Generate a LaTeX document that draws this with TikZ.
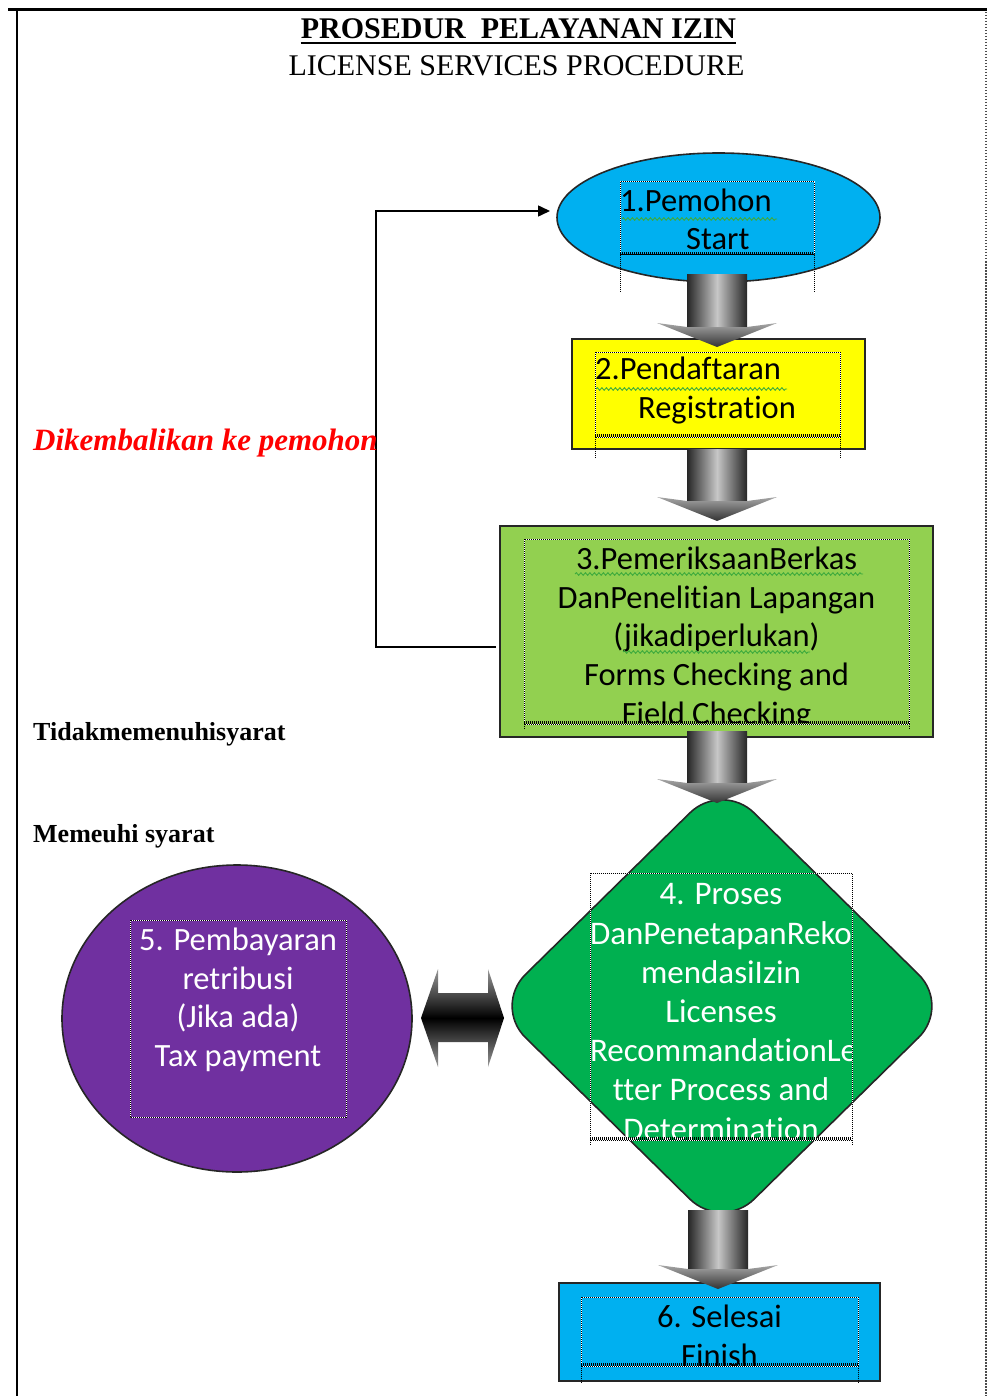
\documentclass[tikz,border=0pt]{standalone}
\usepackage{fontspec}
\usetikzlibrary{shapes.geometric,arrows.meta,decorations.pathmorphing,calc}
\newfontfamily\calibri[Ligatures={NoCommon,NoDiscretionary,NoContextual}]{Carlito}
\newfontfamily\cambria{Liberation Serif}
\definecolor{cyanfill}{HTML}{00B0F0}
\definecolor{yellowfill}{HTML}{FFFF00}
\definecolor{lgreen}{HTML}{92D050}
\definecolor{dgreen}{HTML}{00B050}
\definecolor{purplefill}{HTML}{7030A0}
\definecolor{redtext}{HTML}{FF0000}
\definecolor{squig}{HTML}{3DAA3D}
\newcommand\blockdown[4]{%
  \shade[left color=black!85, right color=black!85, middle color=black!22]
    ({#1-30},#2) rectangle ({#1+30},{#3+3});
  \shade[top color=black!35, bottom color=black!80]
    ({#1-60},#3) -- ({#1-30},{#3+4}) -- ({#1+30},{#3+4}) -- ({#1+60},#3) -- (#1,#4) -- cycle;
}
\newcommand\textframe[5]{%
  \draw[white, line width=1pt] (#1,#2) rectangle (#3,#4);
  \draw[black, line width=1pt, dash pattern=on 1pt off 1pt] (#1,#2) rectangle (#3,#4);
  \draw[black, line width=2.5pt, dash pattern=on 1pt off 1pt] (#1,{#4-1.5}) -- (#3,{#4-1.5});
  \draw[black, line width=1pt, dash pattern=on 1pt off 1pt] (#1,#4) -- (#1,#5) (#3,#4) -- (#3,#5);
}
\begin{document}
\begin{tikzpicture}[x=1pt,y=-1pt,
  shapebox/.style={draw=black!85, line width=1.6pt, inner sep=0pt},
  boxtext/.style={inner sep=0pt, align=center, anchor=base,
    font={\calibri\fontsize{32.5}{38.6}\selectfont}},
  squiggle/.style={squig, line width=0.9pt, decorate,
    decoration={snake, amplitude=1.3pt, segment length=4.5pt}},
  label/.style={inner sep=0pt, anchor=base west}]
\useasboundingbox (0,0) rectangle (995,1396);

% page frame
\draw[line width=3pt] (8,10) -- (987,10);
\draw[line width=2pt] (17,10) -- (17,1396);
\draw[black!70, line width=1.2pt, dash pattern=on 1.5pt off 1.5pt] (986,12) -- (986,1396);

% titles
\node[inner sep=0pt, anchor=base, font={\cambria\bfseries\fontsize{30}{36}\selectfont}] (title) at (518.5,39) {PROSEDUR\ \ PELAYANAN IZIN};
\draw[line width=2.5pt] ([yshift=-4pt]title.base west) -- ([yshift=-4pt]title.base east);
\node[inner sep=0pt, anchor=base, font={\cambria\fontsize{30}{36}\selectfont}] (subtitle) at (516.5,76) {LICENSE SERVICES PROCEDURE};

% shapes
\node[shapebox, ellipse, fill=cyanfill, minimum width=323, minimum height=129] (n1) at (718.5,217.5) {};
\node[shapebox, rectangle, fill=yellowfill, minimum width=293, minimum height=110] (n2) at (718.5,394) {};
\node[shapebox, rectangle, fill=lgreen, minimum width=433, minimum height=211] (n3) at (716.5,631.5) {};
\node[shapebox, diamond, fill=dgreen, rounded corners=45pt, minimum width=458, minimum height=450] (n4) at (722,1006) {};
\node[shapebox, ellipse, fill=purplefill, minimum width=350, minimum height=307] (n5) at (237,1018.5) {};
\node[shapebox, rectangle, fill=cyanfill, minimum width=321, minimum height=98] (n6) at (719.5,1332) {};

% texts (anchor = baseline of the last line)
\begin{scope}
\clip (620,182) rectangle (814,256);
\node[boxtext, align=left, anchor=base west] (t1) at (620,250) {1.Pemohon\\\hspace*{66pt}Start};
\end{scope}
\begin{scope}
\clip (595,352) rectangle (840,438);
\node[boxtext, align=left, anchor=base west] (t2) at (595,418.5) {2.Pendaftaran\\\hspace*{43pt}Registration};
\end{scope}
\begin{scope}
\clip (524,539) rectangle (909,722);
\node[boxtext] (t3) at (716.5,724) {3.PemeriksaanBerkas\\DanPenelitian Lapangan\\(jikadiperlukan)\\Forms Checking and\\Field Checking};
\end{scope}
\begin{scope}
\clip (590,873) rectangle (852,1140);
\node[boxtext, text=white, font={\calibri\fontsize{33}{39.2}\selectfont}] (t4) at (721,1140) {%
\makebox[262pt]{4. Proses}\\
\makebox[262pt][l]{DanPenetapanReko}\\
\makebox[262pt]{mendasiIzin}\\
\makebox[262pt]{Licenses}\\
\makebox[262pt][l]{RecommandationLe}\\
\makebox[262pt]{tter Process and}\\
\makebox[262pt]{Determination}};
\end{scope}
\node[boxtext, text=white] (t5) at (238,1066.5) {5. Pembayaran\\retribusi\\(Jika ada)\\Tax payment};
\begin{scope}
\clip (581,1297) rectangle (858,1366);
\node[boxtext] (t6) at (719.5,1366.5) {6. Selesai\\Finish};
\end{scope}

% spell-check squiggles
\draw[squiggle] (622,219) -- (777,219);
\draw[squiggle] (596,389) -- (787,389);
\draw[squiggle] (575,574) -- (863,574);
\draw[squiggle] (623,652) -- (810,652);

% text frames
\textframe{620}{182}{814}{255}{292}
\textframe{595}{352}{840}{437}{458}
\textframe{524}{539}{909}{724}{730}
\textframe{590}{873}{852}{1140}{1146}
\draw[white, line width=1pt] (130,920) rectangle (346,1117);
\draw[black, line width=1pt, dash pattern=on 1pt off 1pt] (130,920) rectangle (346,1117);
\textframe{581}{1297}{858}{1366}{1383}

% block arrows
\blockdown{717}{275}{323}{347}
\blockdown{717}{449}{497}{521}
\blockdown{717}{731}{779}{803}
\blockdown{718}{1210}{1265}{1289}

% double arrow between 5 and 4
\shade[top color=black!40, bottom color=black!40, middle color=black]
  (421,1018) -- (438,969) -- (438,993) -- (488,993) -- (488,969) -- (504,1018)
  -- (488,1067) -- (488,1042) -- (438,1042) -- (438,1067) -- cycle;

% feedback connector
\coordinate (fbS) at ($(n3.west)+(-3,15.5)$);
\coordinate (fbE) at (550,211);
\draw[line width=1.5pt, -{Triangle[length=12pt,width=11pt]}] (fbS) -- ++(-120,0) |- (fbE);

% labels
\node[label, text=redtext, font={\cambria\bfseries\itshape\fontsize{31}{36}\selectfont}] (back) at (33,450) {Dikembalikan ke pemohon};
\node[label, font={\cambria\bfseries\fontsize{26}{30}\selectfont}] (notok) at (33,740) {Tidakmemenuhisyarat};
\node[label, font={\cambria\bfseries\fontsize{26}{30}\selectfont}] (ok) at (33,842) {Memeuhi syarat};
\end{tikzpicture}
\end{document}
